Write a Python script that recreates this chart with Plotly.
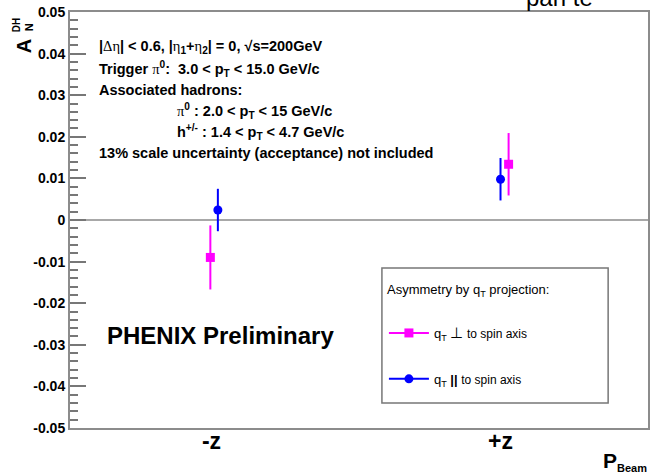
import plotly.graph_objects as go

# ---- data -------------------------------------------------------------
categories = ["-z", "+z"]

# q_T perpendicular to spin axis
perp_vals = [-0.0090, 0.0134]
perp_errs = [0.0077, 0.0075]

# q_T parallel to spin axis
par_vals = [0.0024, 0.0098]
par_errs = [0.0051, 0.0051]

y_tickvals = [0.05, 0.04, 0.03, 0.02, 0.01, 0.0, -0.01, -0.02, -0.03, -0.04, -0.05]
y_ticktext = ["0.05", "0.04", "0.03", "0.02", "0.01", "0", "-0.01", "-0.02", "-0.03", "-0.04", "-0.05"]

# small horizontal shifts so the two series do not overlap
perp_shift = [-0.004, 0.028]
par_shift = [0.022, 0.0]

# ---- geometry helpers ---------------------------------------------------
W, H = 652, 474
ML, MR, MT, MB = 70, 2, 12, 46
PW, PH = W - ML - MR, H - MT - MB


def px(x):
    return (x - ML) / PW


def py(y):
    return (H - MB - y) / PH


FONT = "Liberation Sans, Arial, Helvetica, sans-serif"
SERIF = "Liberation Serif, Times New Roman, serif"
MAGENTA = "#ff00ff"
BLUE = "#0000ff"
AXIS = "#8c8c8c"

fig = go.Figure()

series = [
    ("q<sub>T</sub> <span style='font-size:15px'>⊥</span> <span style='font-size:12px'>to spin axis</span>",
     perp_vals, perp_errs, perp_shift, MAGENTA, "square", "perp"),
    ("q<sub>T</sub> <b>||</b> <span style='font-size:12px'>to spin axis</span>",
     par_vals, par_errs, par_shift, BLUE, "circle", "par"),
]

for name, vals, errs, shift, color, symbol, grp in series:
    for i, cat in enumerate(categories):
        fig.add_trace(go.Scatter(
            x=[i + shift[i]],
            y=[vals[i]],
            error_y=dict(type="data", array=[errs[i]], visible=True,
                         color=color, thickness=2, width=0),
            mode="lines+markers",
            marker=dict(symbol=symbol, size=9, color=color),
            line=dict(color=color, width=2),
            name=name,
            legendgroup=grp,
            showlegend=(i == 0),
            hoverinfo="y",
        ))

fig.update_xaxes(
    range=[(ML - 212) / 290, (W - MR - 212) / 290],
    tickmode="array",
    tickvals=list(range(len(categories))),
    ticktext=categories,
    tickfont=dict(family=FONT, size=23, color="black", weight="bold"),
    ticks="",
    ticklabelstandoff=-9,
    showgrid=False,
    zeroline=False,
    showline=True,
    linecolor=AXIS,
    linewidth=2,
    mirror=True,
)

fig.update_yaxes(
    range=[-0.05, 0.05],
    tickmode="array",
    tickvals=y_tickvals,
    ticktext=y_ticktext,
    tickfont=dict(family=FONT, size=14, color="black", weight="bold"),
    ticks="inside",
    ticklen=16,
    tickwidth=1.5,
    tickcolor="#777777",
    minor=dict(tickmode="linear", tick0=-0.05, dtick=0.002, ticks="inside",
               ticklen=8, tickwidth=1.5, tickcolor="#777777", showgrid=False),
    showgrid=False,
    zeroline=True,
    zerolinecolor="#a8a8a8",
    zerolinewidth=2,
    showline=True,
    linecolor=AXIS,
    linewidth=2,
    mirror=True,
)

# legend frame
fig.add_shape(type="rect", xref="paper", yref="paper",
              x0=px(383), x1=px(610), y0=py(403), y1=py(268),
              line=dict(color="#777777", width=1.5), fillcolor="white",
              layer="below")

ann = []


def text(x, y, s, size, bold=True, xanchor="left", yanchor="middle", angle=0):
    ann.append(dict(
        x=px(x), y=py(y), xref="paper", yref="paper", text=s, showarrow=False,
        xanchor=xanchor, yanchor=yanchor, textangle=angle,
        font=dict(family=FONT, size=size, color="black",
                  weight="bold" if bold else "normal"),
    ))


def sym(s):
    return f"<span style='font-family:{SERIF};font-weight:normal'>{s}</span>"


text(97, 47, f"|{sym('Δη')}| < 0.6, |{sym('η')}<sub>1</sub>+{sym('η')}<sub>2</sub>| = 0, √s=200GeV", 14.5)
text(97, 69, f"Trigger {sym('π')}<sup>0</sup>:  3.0 < p<sub>T</sub> < 15.0 GeV/c", 14.5)
text(97, 90, "Associated hadrons:", 14.5)
text(175, 111, f"{sym('π')}<sup>0</sup> : 2.0 < p<sub>T</sub> < 15 GeV/c", 14.5)
text(175, 132, "h<sup>+/-</sup> : 1.4 < p<sub>T</sub> < 4.7 GeV/c", 14.5)
text(97, 153, "13% scale uncertainty (acceptance) not included", 14.5)

text(105, 335, "PHENIX Preliminary", 24)

# legend heading
text(386, 290, "Asymmetry by q<sub>T</sub> projection:", 13, bold=False)

# y-axis title A_N^DH, read bottom to top
text(24, 46, "A", 20, xanchor="center", angle=-90)
text(29, 27, "N", 11, xanchor="center", angle=-90)
text(16, 25, "DH", 10, xanchor="center", angle=-90)

# x-axis title
text(603, 461, "P<sub><span style='font-size:11px'>Beam</span></sub>", 21)

# partially visible heading at the top edge
ann.append(dict(x=px(526), y=1 - 1 / PH, xref="paper", yref="paper",
                text="pan te", showarrow=False, xanchor="left", yanchor="bottom",
                font=dict(family=FONT, size=24, color="black")))

fig.update_layout(
    width=W, height=H,
    margin=dict(l=ML, r=MR, t=MT, b=MB),
    paper_bgcolor="white",
    plot_bgcolor="white",
    font=dict(family=FONT, color="black"),
    annotations=ann,
    showlegend=True,
    legend=dict(
        x=px(385), y=py(318), xanchor="left", yanchor="top",
        bgcolor="rgba(0,0,0,0)", borderwidth=0,
        font=dict(family=FONT, size=13, color="black"),
        traceorder="grouped",
        tracegroupgap=26,
        itemwidth=40,
    ),
)

fig.write_html("out.html")
